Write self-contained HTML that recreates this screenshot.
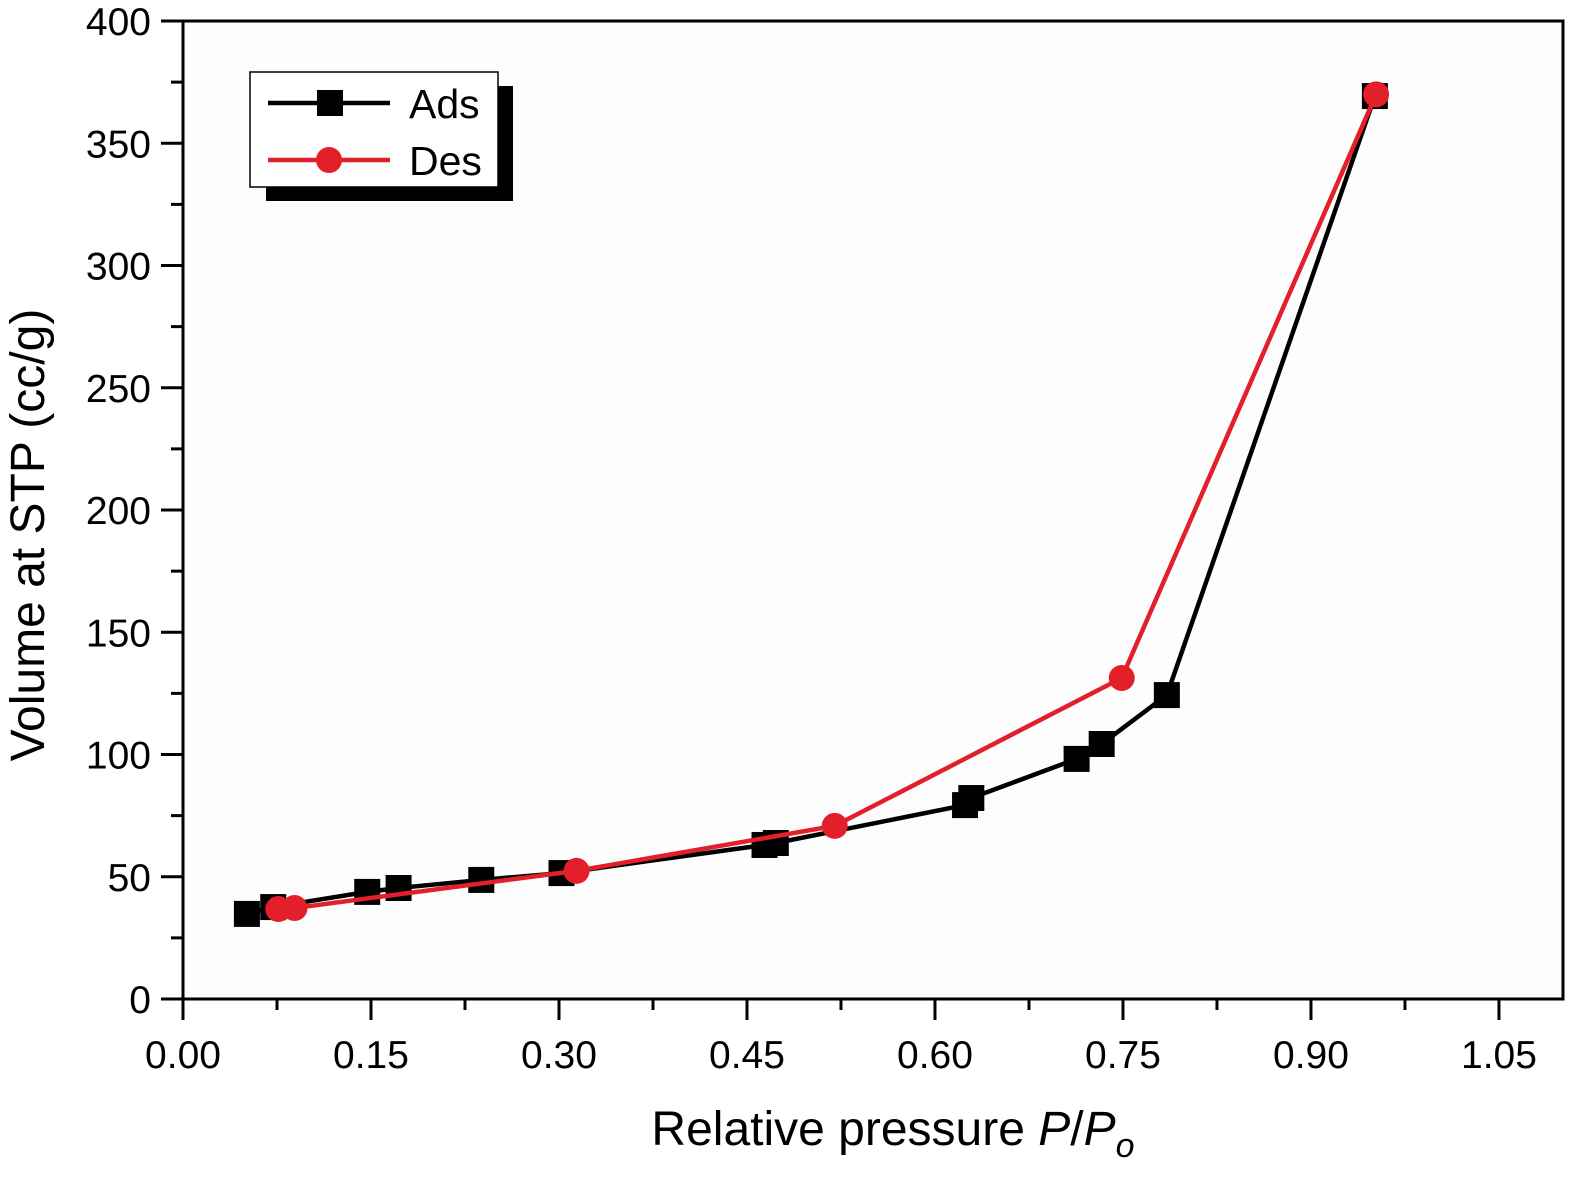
<!DOCTYPE html>
<html><head><meta charset="utf-8"><style>
body{margin:0;background:#fff;}
svg text{font-family:"Liberation Sans",Arial,sans-serif;fill:#000;}
</style></head><body>
<svg width="1572" height="1173" viewBox="0 0 1572 1173" xmlns="http://www.w3.org/2000/svg">
<rect x="183" y="21" width="1380" height="978" fill="#fdfdfd"/>
<g id="ticks"></g>
<g id="series"></g>
<rect x="183" y="21" width="1380" height="978" fill="none" stroke="#000" stroke-width="3"/>
<text transform="translate(44,535) rotate(-90)" text-anchor="middle" font-size="48">Volume at STP (cc/g)</text>
<text x="893" y="1145" text-anchor="middle" font-size="48">Relative pressure <tspan font-style="italic">P</tspan>/<tspan font-style="italic">P</tspan><tspan font-style="italic" font-size="34" dy="12">o</tspan></text>
<g>
<rect x="266" y="86" width="247" height="115" fill="#000"/>
<rect x="250" y="72" width="248" height="115" fill="#fff" stroke="#000" stroke-width="1.5"/>
<g>
<line x1="268" y1="103" x2="390" y2="103" stroke="#000" stroke-width="4.5"/>
<rect x="317" y="90" width="26" height="26" fill="#000"/>
<text x="409" y="118" font-size="41">Ads</text>
</g>
<g>
<line x1="268" y1="160" x2="390" y2="160" stroke="#e3202a" stroke-width="4.5"/>
<circle cx="329" cy="160" r="13" fill="#e3202a"/>
<text x="409" y="175" font-size="41">Des</text>
</g>
</g>
</svg>
<script>
const xTicks=[0,0.15,0.30,0.45,0.60,0.75,0.90,1.05];
const xTickLabels=["0.00","0.15","0.30","0.45","0.60","0.75","0.90","1.05"];
const yTicks=[0,50,100,150,200,250,300,350,400];
const yTickLabels=["0","50","100","150","200","250","300","350","400"];
const adsX=[0.051,0.072,0.147,0.172,0.238,0.302,0.464,0.473,0.624,0.629,0.713,0.733,0.785,0.951];
const adsY=[34.8,37.6,43.8,45.4,48.7,51.5,63,63.8,79.3,82.2,98.2,104.3,124.3,369.3];
const desX=[0.076,0.089,0.314,0.520,0.749,0.952];
const desY=[36.8,37.2,52.4,70.8,131.3,370];
const NS="http://www.w3.org/2000/svg";
function sx(v){return 183+v*1253.3;}
function sy(v){return 999-v*2.445;}
function mk(tag,attrs,parent){const e=document.createElementNS(NS,tag);for(const k in attrs)e.setAttribute(k,attrs[k]);parent.appendChild(e);return e;}
const tg=document.getElementById('ticks');
xTicks.forEach((t,i)=>{
 const l=mk('line',{x1:sx(t),x2:sx(t),y1:999,y2:1020,stroke:'#000','stroke-width':3},tg);
 
 
 const m=mk('line',{x1:sx(t+0.075),x2:sx(t+0.075),y1:999,y2:1010,stroke:'#000','stroke-width':3},tg);
 
 
 const tx=mk('text',{x:sx(t),y:1068,'text-anchor':'middle','font-size':39},tg);
 tx.textContent=xTickLabels[i];
 
 
});
yTicks.forEach((t,i)=>{
 const l=mk('line',{x1:161,x2:183,y1:sy(t),y2:sy(t),stroke:'#000','stroke-width':3},tg);
 
 
 if(t<400){const m=mk('line',{x1:171,x2:183,y1:sy(t+25),y2:sy(t+25),stroke:'#000','stroke-width':3},tg);
 
 }
 const tx=mk('text',{x:151,y:sy(t)+14,'text-anchor':'end','font-size':39},tg);
 tx.textContent=yTickLabels[i];
 
 
});
const sg=document.getElementById('series');
const adsLine=mk('polyline',{points:adsX.map((x,i)=>sx(x)+','+sy(adsY[i])).join(' '),fill:'none',stroke:'#000','stroke-width':4.5},sg);


adsX.forEach((x,i)=>{const r=mk('rect',{x:sx(x)-13,y:sy(adsY[i])-13,width:26,height:26,fill:'#000'},sg);
 
 });
const desLine=mk('polyline',{points:desX.map((x,i)=>sx(x)+','+sy(desY[i])).join(' '),fill:'none',stroke:'#e3202a','stroke-width':4.5},sg);


desX.forEach((x,i)=>{const c=mk('circle',{cx:sx(x),cy:sy(desY[i]),r:13,fill:'#e3202a'},sg);
 
 });
</script>
</body></html>
